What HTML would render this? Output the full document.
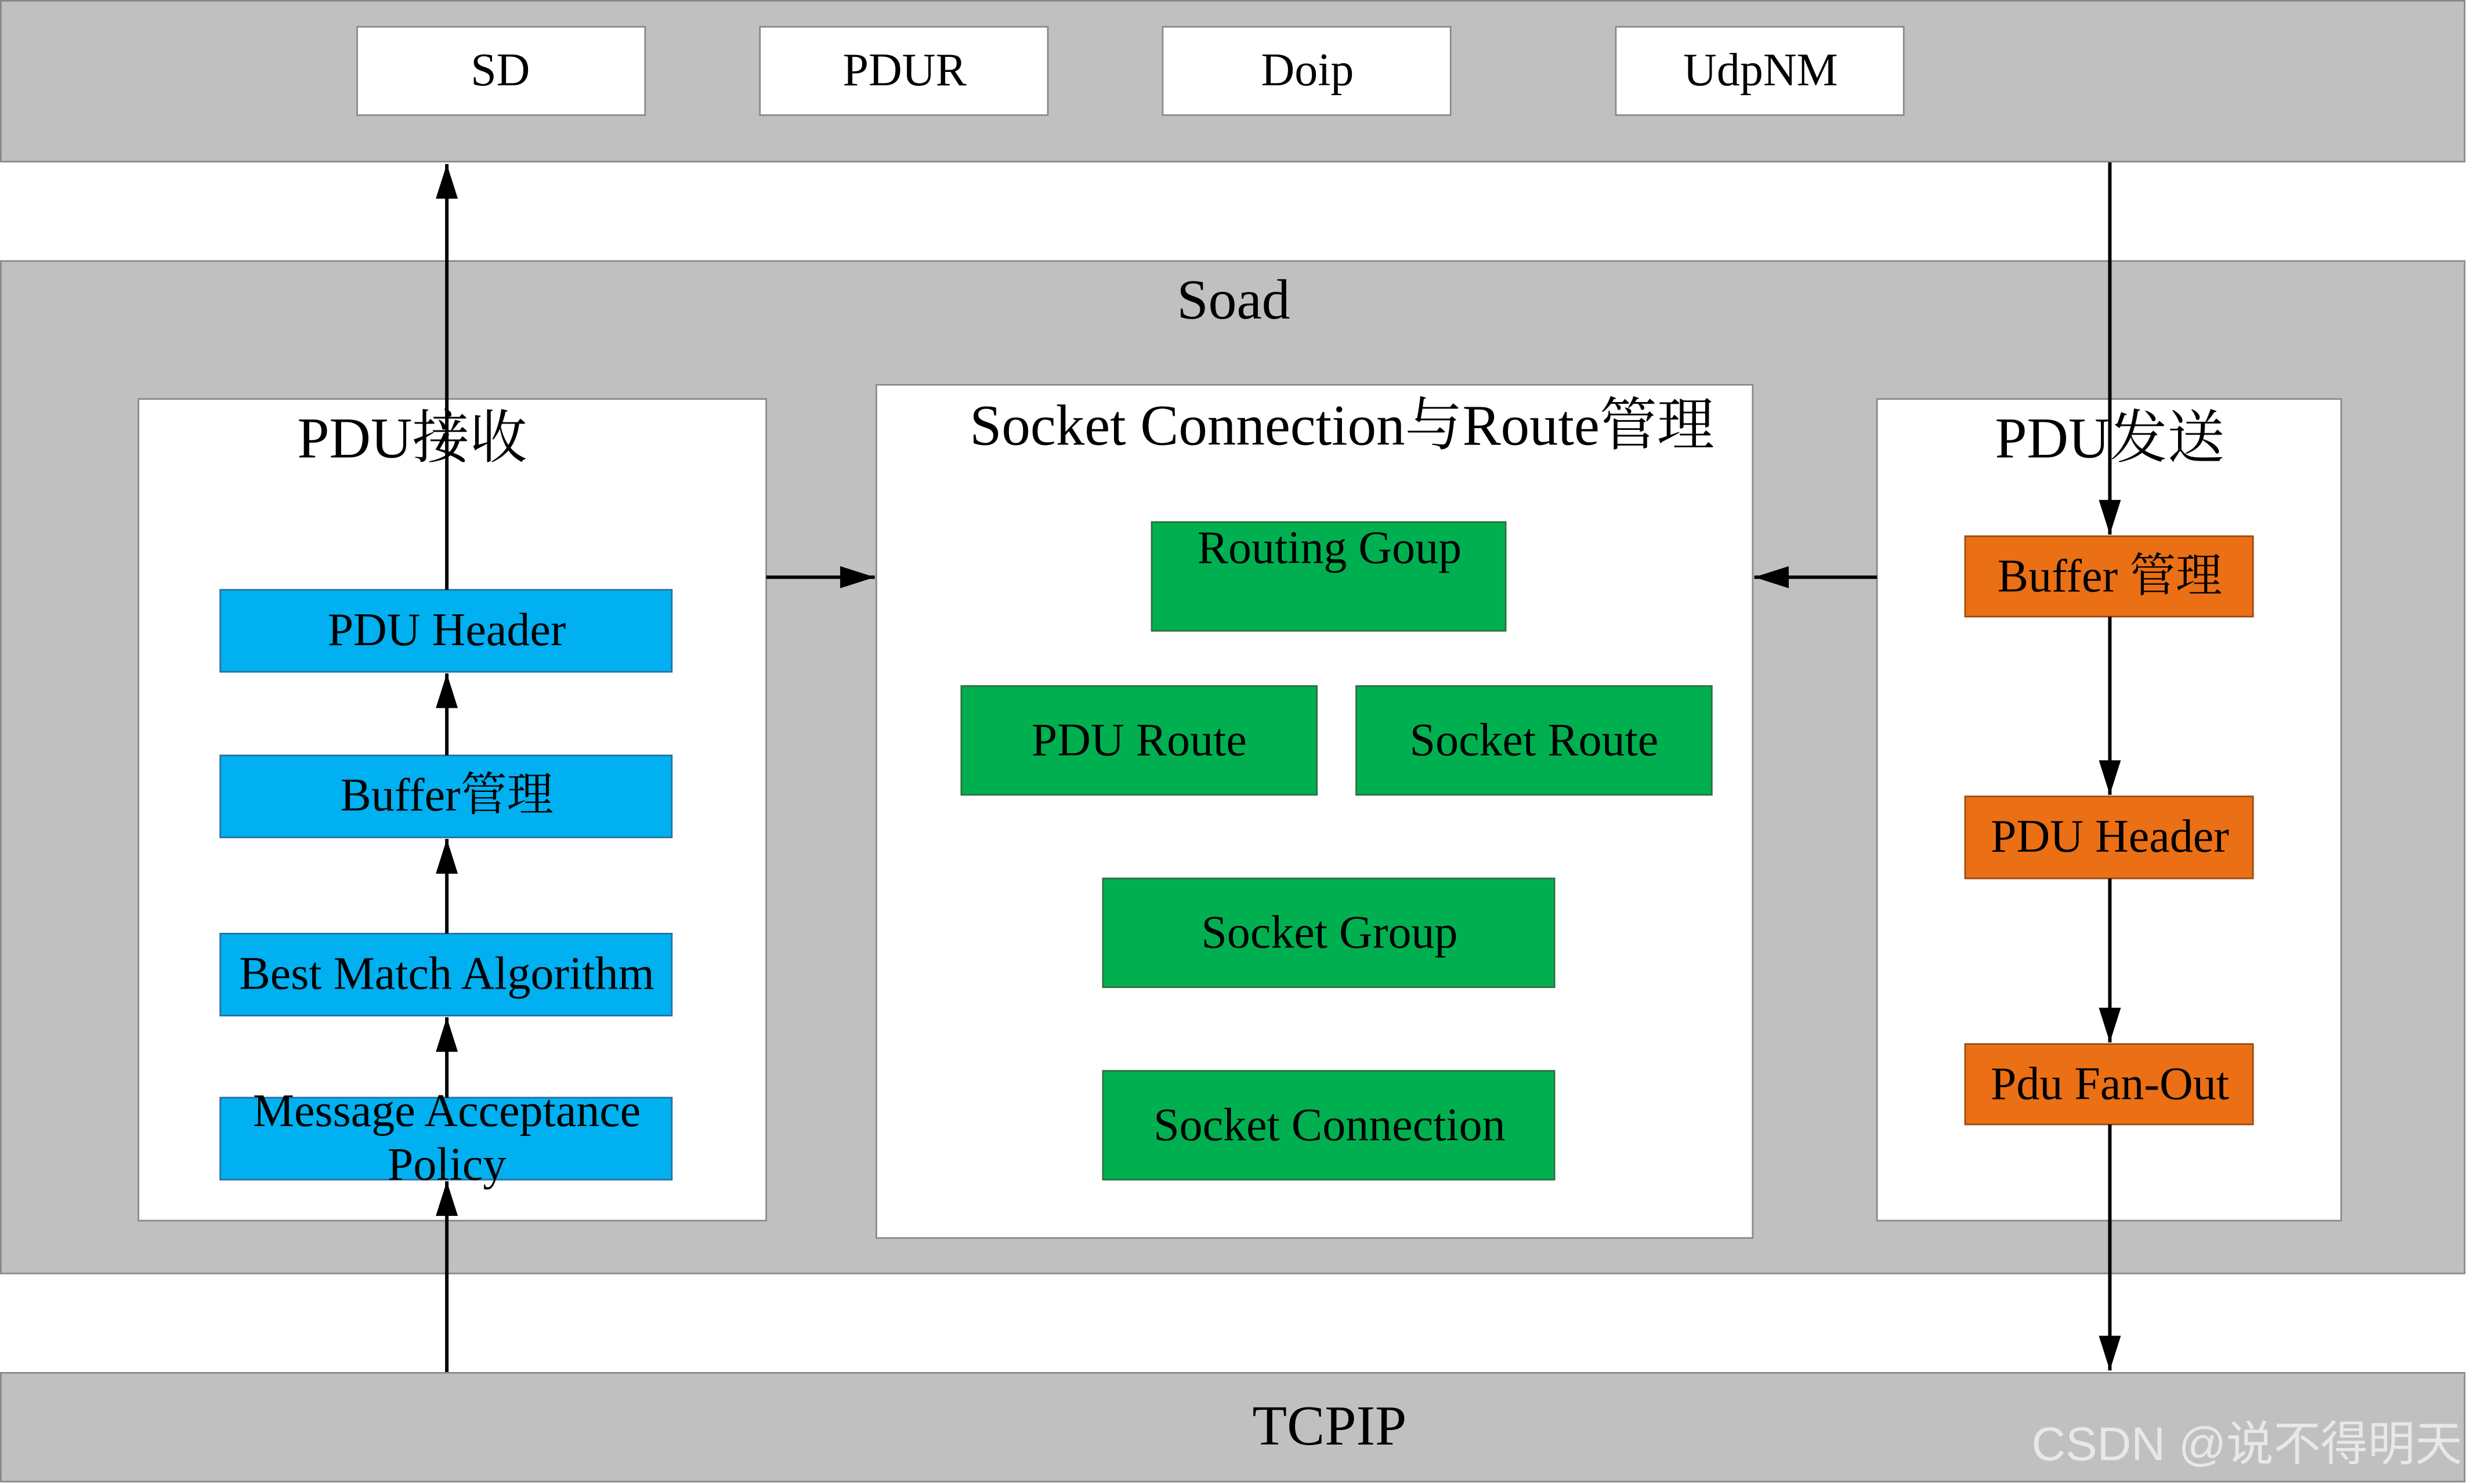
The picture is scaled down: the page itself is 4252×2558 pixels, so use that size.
<!DOCTYPE html>
<html><head><meta charset="utf-8">
<style>
html,body{margin:0;padding:0;background:#fff;}
svg{display:block;}
text{font-family:"Liberation Serif","Noto Serif CJK SC","Noto Sans CJK SC",serif;fill:#000;}
</style></head>
<body>
<svg width="4252" height="2558" viewBox="0 0 1568 941" preserveAspectRatio="none" xmlns="http://www.w3.org/2000/svg">
<defs>
<marker id="a2" viewBox="0 0 22 14" markerWidth="22" markerHeight="14" refX="22" refY="7" orient="auto" markerUnits="userSpaceOnUse">
<path d="M0,0 L22,7 L0,14 Z" fill="#000"/>
</marker>
</defs>
<rect width="1568" height="941" fill="#fff"/>
<rect x="0.5" y="0.5" width="1566" height="102" fill="#c0c0c0" stroke="#888"/>
<g fill="#fff" stroke="#888">
<rect x="227" y="17" width="183" height="56"/>
<rect x="483" y="17" width="183" height="56"/>
<rect x="739" y="17" width="183" height="56"/>
<rect x="1027" y="17" width="183" height="56"/>
</g>
<g font-size="29.5" text-anchor="middle">
<text x="318" y="54">SD</text>
<text x="575" y="54">PDUR</text>
<text x="831" y="54">Doip</text>
<text x="1119" y="54">UdpNM</text>
</g>
<rect x="0.5" y="165.5" width="1566" height="642" fill="#c0c0c0" stroke="#888"/>
<text x="784" y="202" font-size="36" text-anchor="middle">Soad</text>
<g fill="#fff" stroke="#888">
<rect x="88" y="253" width="399" height="521"/>
<rect x="557" y="244" width="557" height="541"/>
<rect x="1193" y="253" width="295" height="521"/>
</g>
<g font-size="36.5" text-anchor="middle">
<text x="262" y="290">PDU接收</text>
<text x="853" y="282">Socket Connection与Route管理</text>
<text x="1341" y="290">PDU发送</text>
</g>
<g fill="#00b0f0" stroke="#2a6f9f">
<rect x="140" y="374" width="287" height="52"/>
<rect x="140" y="479" width="287" height="52"/>
<rect x="140" y="592" width="287" height="52"/>
<rect x="140" y="696" width="287" height="52"/>
</g>
<g font-size="29.5" text-anchor="middle">
<text x="284" y="409">PDU Header</text>
<text x="284" y="514">Buffer管理</text>
<text x="284" y="627">Best Match Algorithm</text>
<text x="284" y="714">Message Acceptance</text>
<text x="284" y="748">Policy</text>
</g>
<g fill="#00b050" stroke="#2e6e3e">
<rect x="732" y="331" width="225" height="69"/>
<rect x="611" y="435" width="226" height="69"/>
<rect x="862" y="435" width="226" height="69"/>
<rect x="701" y="557" width="287" height="69"/>
<rect x="701" y="679" width="287" height="69"/>
</g>
<g font-size="29.5" text-anchor="middle">
<text x="845" y="357">Routing Goup</text>
<text x="724" y="479">PDU Route</text>
<text x="975" y="479">Socket Route</text>
<text x="845" y="601">Socket Group</text>
<text x="845" y="723">Socket Connection</text>
</g>
<g fill="#eb6f14" stroke="#9a4a10">
<rect x="1249" y="340" width="183" height="51"/>
<rect x="1249" y="505" width="183" height="52"/>
<rect x="1249" y="662" width="183" height="51"/>
</g>
<g font-size="29.5" text-anchor="middle">
<text x="1341" y="375">Buffer 管理</text>
<text x="1341" y="540">PDU Header</text>
<text x="1341" y="697">Pdu Fan-Out</text>
</g>
<rect x="0.5" y="870.5" width="1566" height="69" fill="#c0c0c0" stroke="#888"/>
<text x="845" y="916" font-size="36" text-anchor="middle">TCPIP</text>
<g stroke="#000" stroke-width="2.2" fill="none" marker-end="url(#a2)">
<line x1="284" y1="870" x2="284" y2="749"/>
<line x1="284" y1="696" x2="284" y2="645"/>
<line x1="284" y1="592" x2="284" y2="532"/>
<line x1="284" y1="479" x2="284" y2="427"/>
<line x1="284" y1="374" x2="284" y2="104"/>
<line x1="487" y1="366" x2="556" y2="366"/>
<line x1="1193" y1="366" x2="1115" y2="366"/>
<line x1="1341" y1="103" x2="1341" y2="339"/>
<line x1="1341" y1="391" x2="1341" y2="504"/>
<line x1="1341" y1="557" x2="1341" y2="661"/>
<line x1="1341" y1="713" x2="1341" y2="869"/>
</g>
<text x="1565" y="926" font-size="30" text-anchor="end" style="fill:#e8e8e8;font-family:'Liberation Sans','Noto Sans CJK SC',sans-serif">CSDN @说不得明天</text>
</svg>
</body></html>
